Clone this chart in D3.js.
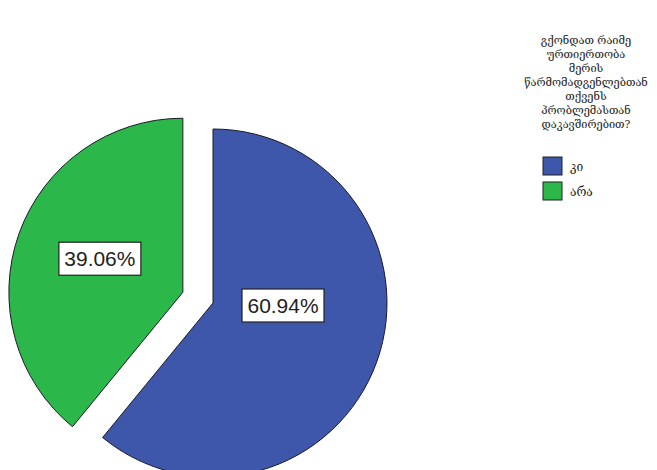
<!DOCTYPE html>
<html><head><meta charset="utf-8">
<script src="https://cdn.jsdelivr.net/npm/d3@7"></script>
<style>body{margin:0;background:#fff}</style>
</head><body>
<svg id="c" width="657" height="470"></svg>
<script>
const categories = ["კი", "არა"];
const values = [60.94, 39.06];
const labels = ["60.94%", "39.06%"];
const colors = ["#3f57ab", "#2cb74a"];
const titleLines = ["გქონდათ რაიმე", "ურთიერთობა", "მერის", "წარმომადგენლებთან", "თქვენს", "პრობლემასთან", "დაკავშირებით?"];

const svg = d3.select("#c");
const cx = 213, cy = 303, r = 174;
const explode = [0, 32];
const pie = d3.pie().sort(null).value(d => d)(values);
const arc = d3.arc().innerRadius(0).outerRadius(r);
const g = svg.append("g").attr("transform", `translate(${cx},${cy})`);
const slices = g.selectAll("g.s").data(pie).join("g").attr("class","s")
  .attr("transform", (d,i) => {
    const m = (d.startAngle + d.endAngle)/2;
    return `translate(${Math.sin(m)*explode[i]},${-Math.cos(m)*explode[i]})`;
  });
slices.append("path").attr("d", arc).attr("fill", (d,i)=>colors[i])
  .attr("stroke", "#1a1a2a").attr("stroke-width", 1);
const labelPos = [[70, 2], [-83, -34]];
slices.each(function(d,i){
  const s = d3.select(this);
  const t = s.append("text").attr("x", labelPos[i][0]).attr("y", labelPos[i][1] + 1)
    .attr("text-anchor","middle").attr("dominant-baseline","central")
    .attr("font-family","Arial, Liberation Sans, sans-serif").attr("font-size", 20)
    .attr("textLength", 71).attr("lengthAdjust","spacingAndGlyphs")
    .attr("fill","#222").text(labels[i]);
  s.insert("rect", "text").attr("x", labelPos[i][0]-41).attr("y", labelPos[i][1]-16)
    .attr("width", 82).attr("height", 33)
    .attr("fill","#fff").attr("stroke","#222").attr("stroke-width",1.2);
});

const leg = svg.append("g");
leg.selectAll("text.t").data(titleLines).join("text").attr("class","t")
  .attr("x", 586).attr("y", (d,i)=> 44 + i*14)
  .attr("text-anchor","middle").attr("font-family","DejaVu Serif, DejaVu Sans, serif")
  .attr("font-size", 11).attr("fill","#222").text(d=>d);
const items = leg.selectAll("g.it").data(categories).join("g").attr("class","it")
  .attr("transform",(d,i)=>`translate(543,${157 + i*25})`);
items.append("rect").attr("width",19).attr("height",18).attr("fill",(d,i)=>colors[i])
  .attr("stroke","#222").attr("stroke-width",1);
items.append("text").attr("x",27).attr("y",14).attr("font-family","DejaVu Serif, DejaVu Sans, serif")
  .attr("font-size",12).attr("fill","#222").text(d=>d);
</script>
</body></html>
